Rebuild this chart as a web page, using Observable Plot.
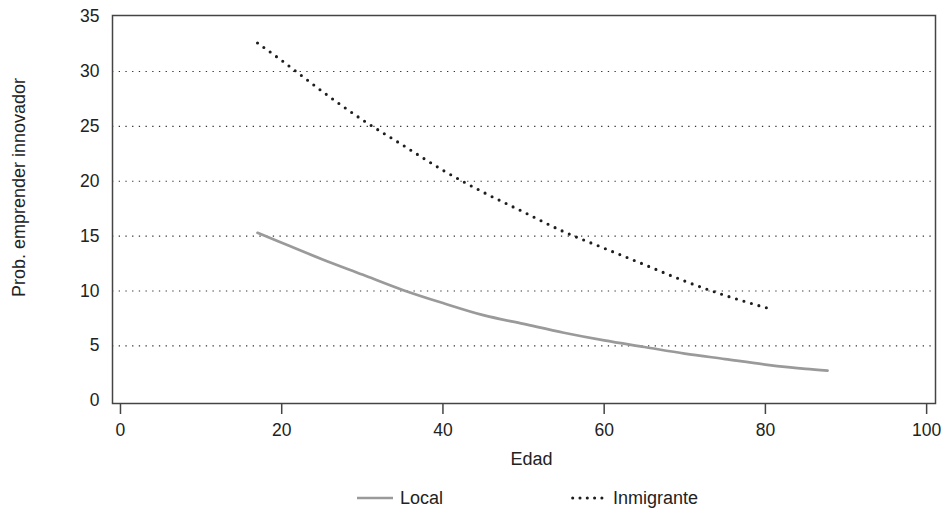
<!DOCTYPE html>
<html><head><meta charset="utf-8">
<script src="https://cdn.jsdelivr.net/npm/d3@7"></script>
<script src="https://cdn.jsdelivr.net/npm/@observablehq/plot@0.6"></script>
<style>
body{margin:0;background:#fff;font-family:"Liberation Sans",Arial,sans-serif;color:#222;}
#chart svg{display:block;}
#legend{position:relative;height:30px;font-size:18px;}
.item{position:absolute;top:8px;display:flex;align-items:center;gap:0;line-height:20px;}
</style></head><body>
<div id="chart"></div>
<div id="legend"></div>
<script>
const localAge = [17,20,25,30,35,40,45,50,55,60,65,70,75,80,85,87.7];
const localVal = [15.3,14.4,12.9,11.5,10.1,8.9,7.8,7.0,6.2,5.5,4.9,4.3,3.8,3.3,2.9,2.75];
const inmAge = [17,20,25,30,35,40,45,50,55,60,65,70,75,80.7];
const inmVal = [32.6,31.0,28.2,25.6,23.3,21.0,19.0,17.2,15.4,13.9,12.4,10.9,9.6,8.35];
const yTicks = [0,5,10,15,20,25,30,35];
const gridY = [5,10,15,20,25,30];
const xTicks = [0,20,40,60,80,100];
const seriesNames = ["Local","Inmigrante"];
const xLabel = "Edad";
const yLabel = "Prob. emprender innovador";

const local = localAge.map((a,i)=>({edad:a, p:localVal[i]}));
const inm = inmAge.map((a,i)=>({edad:a, p:inmVal[i]}));

const chart = Plot.plot({
  width:941, height:480,
  marginLeft:112, marginRight:6, marginTop:15, marginBottom:77,
  style:{fontFamily:'"Liberation Sans",Arial,sans-serif', fontSize:"17px", color:"#222"},
  x:{domain:[-0.99,101.1]},
  y:{domain:[-0.25,35.1]},
  marks:[
    Plot.ruleY(gridY,{stroke:"#333",strokeWidth:1.1,strokeDasharray:"1.3,5.4"}),
    Plot.frame({stroke:"#444",strokeWidth:1.5}),
    Plot.axisX({ticks:xTicks,tickSize:11,tickPadding:9,fontSize:17.5,stroke:"#444",strokeWidth:1.5,label:null}),
    Plot.axisY({ticks:yTicks,tickSize:0,tickPadding:13,fontSize:17.5,label:null}),
    Plot.text([xLabel],{frameAnchor:"bottom",textAnchor:"middle",dx:7.5,dy:61,fontSize:18,fill:"#222"}),
    Plot.text([yLabel],{frameAnchor:"left",textAnchor:"middle",rotate:-90,dx:-93,dy:-22,fontSize:18,fill:"#222"}),
    Plot.line(local,{x:"edad",y:"p",stroke:"#9a9a9a",strokeWidth:2.7,curve:"monotone-x"}),
    Plot.line(inm,{x:"edad",y:"p",stroke:"#1e1e1e",strokeWidth:3.1,strokeDasharray:"0,7.8",strokeLinecap:"round",curve:"monotone-x"})
  ]
});
document.getElementById("chart").appendChild(chart);

const lg = document.getElementById("legend");
lg.innerHTML = `
<div class="item" style="left:357px"><svg width="43" height="12"><line x1="0" y1="6" x2="36" y2="6" stroke="#9a9a9a" stroke-width="2.7"/></svg><span>${seriesNames[0]}</span></div>
<div class="item" style="left:571px"><svg width="42" height="12"><line x1="1.7" y1="6" x2="32" y2="6" stroke="#1e1e1e" stroke-width="3.1" stroke-dasharray="0,7.3" stroke-linecap="round"/></svg><span>${seriesNames[1]}</span></div>`;
</script>
</body></html>
